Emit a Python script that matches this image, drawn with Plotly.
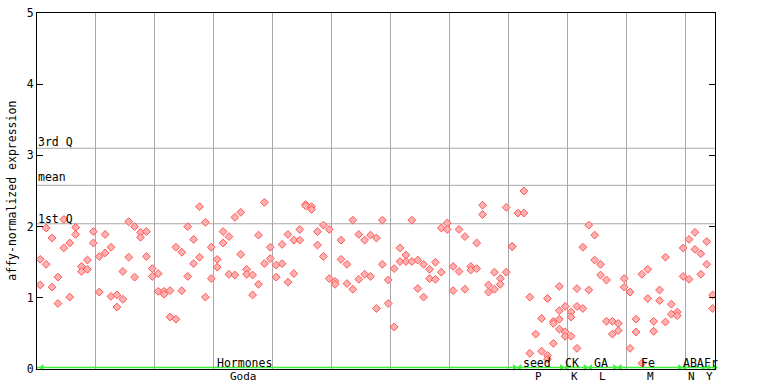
import plotly.graph_objects as go

# ---- data: replicate values per sample column, grouped by category ----
hormones = [[1.54,1.18],[1.98,1.47],[1.84,1.15],[1.29,0.92],[2.10,1.70],[1.77,1.01],[1.99,1.89],[1.44,1.37],[1.53,1.40],[1.93,1.77],
            [1.58,1.08],[1.89,1.63],[1.71,1.02],[1.04,0.87],[1.37,0.98],[2.07,1.57],[2.00,1.29],[1.92,1.85],[1.93,1.58],[1.41,1.30],
            [1.34,1.09],[1.09,1.05],[1.10,0.73],[1.71,0.70],[1.64,1.10],[2.00,1.30],[1.82,1.48],[2.28,1.57],[2.06,1.01],[1.71,1.27],
            [1.54,1.43],[1.93,1.77],[1.86,1.33],[2.13,1.32],[2.20,1.61],[1.40,1.33],[1.32,1.04],[1.88,1.19],[2.34,1.48],[1.71,1.55],
            [1.46,1.29],[1.75,1.48],[1.89,1.22],[1.81,1.34],[1.96,1.81],[2.31,2.29],[2.28,2.24],[1.93,1.74],[2.02,1.58],[1.96,1.27],
            [1.23,1.19],[1.81,1.54],[1.47,1.20],[2.09,1.12],[1.89,1.26],[1.81,1.33],[1.88,1.30],[1.84,0.85],[2.09,1.47],[1.25,0.92],
            [1.41,0.59],[1.70,1.51],[1.60,1.51],[2.09,1.51],[1.53,1.13],[1.47,1.01],[1.40,1.27],[1.50,1.26],[1.98,1.36],[2.05,1.96],
            [1.44,1.10],[1.96,1.37],[1.86,1.12],[1.44,1.39],[1.77,1.41],[2.30,2.17],[1.18,1.08],[1.36,1.12],[1.27,1.19],[2.27,1.36],
            [1.72,1.72]]
seed = [[2.19],[2.50,2.19],[1.01,0.22],[0.49],[0.71,0.25],[0.99,0.19,0.14],[0.67,0.64,0.36],[1.16,0.82,0.70,0.56]]
ck = [[0.88,0.52,0.46],[0.80,0.73,0.46],[1.13,0.88,0.29],[1.71,0.85]]
ga = [[2.02,1.11],[1.88,1.53],[1.47,1.32],[1.25,0.67],[0.67,0.49]]
fe = [[0.64,0.54],[1.27,1.15],[1.08,0.29],[0.70,0.52],[1.33,0.08],[1.40,0.99],[0.67,0.53],[1.11,0.96],[1.57,0.66],[0.91,0.77],[0.80,0.75]]
aba = [[1.70,1.30],[1.82,1.26],[1.92,1.68],[1.62,1.33]]
fr = [[1.79,1.47],[1.04,0.85]]

groups = [hormones, seed, ck, ga, fe, aba, fr]
group_labels = ["Hormones", "seed", "CK", "GA", "Fe", "ABA", "Fr"]
group_label_pos = [34.7, 84.2, 90.2, 95.0, 103.0, 110.7, 113.7]
sub_labels = ["Goda", "P", "K", "L", "M", "N", "Y"]
sub_label_pos = [34.4, 84.4, 90.5, 95.4, 103.5, 110.4, 113.5]

stat_names = ["3rd Q", "mean", "1st Q"]
stat_values = [3.10, 2.58, 2.04]
y_ticks = [0, 1, 2, 3, 4, 5]

FONT = "DejaVu Sans Mono"

xs, ys = [], []
seg_starts, seg_ends = [], []
col = 0
for g in groups:
    seg_starts.append(col)
    for reps in g:
        for v in reps:
            xs.append(col)
            ys.append(v)
        col += 1
    seg_ends.append(col - 1)
ncols = col

fig = go.Figure()

# statistic lines
for v in stat_values:
    fig.add_shape(type="line", x0=0, x1=1, xref="paper", y0=v, y1=v, yref="y",
                  line=dict(color="#a8a8a8", width=1), layer="below")

fig.add_trace(go.Scatter(x=xs, y=ys, mode="markers",
                         marker=dict(symbol="diamond", size=6, color="#ffb0b0",
                                     line=dict(color="#ff5555", width=1)),
                         showlegend=False))

# green category line with arrow heads
fig.add_shape(type="line", x0=-0.55, x1=ncols - 0.6, y0=0.02, y1=0.02, xref="x", yref="y",
              line=dict(color="#3cf03c", width=1.5), layer="above")
fig.add_trace(go.Scatter(x=[s + 0.3 for s in seg_starts], y=[0.02] * len(seg_starts), mode="markers",
                         marker=dict(symbol="triangle-left", size=6, color="#3cf03c"),
                         hoverinfo="skip", showlegend=False, cliponaxis=False))
fig.add_trace(go.Scatter(x=[e + 0.4 for e in seg_ends], y=[0.02] * len(seg_ends), mode="markers",
                         marker=dict(symbol="triangle-right", size=6, color="#3cf03c"),
                         hoverinfo="skip", showlegend=False, cliponaxis=False))

stat_label_y = [3.19, 2.69, 2.10]
for name, yv in zip(stat_names, stat_label_y):
    fig.add_annotation(x=0, xref="paper", xanchor="left", y=yv, yref="y", yanchor="middle",
                       text=name, showarrow=False, borderpad=0,
                       font=dict(family=FONT, size=11.5, color="black"))

for lab, pos in zip(group_labels, group_label_pos):
    fig.add_annotation(x=pos, xref="x", y=0.09, yref="y", yanchor="middle", text=lab,
                       showarrow=False, borderpad=0,
                       font=dict(family=FONT, size=11.5, color="black"))
for lab, pos in zip(sub_labels, sub_label_pos):
    fig.add_annotation(x=pos, xref="x", y=-0.021, yref="paper", yanchor="middle", text=lab,
                       showarrow=False, borderpad=0,
                       font=dict(family=FONT, size=11, color="black"))

# y-axis title as rotated text
fig.add_annotation(x=-0.0373, xref="paper", y=0.5, yref="paper", text="affy-normalized expression",
                   textangle=-90, showarrow=False, borderpad=0, xanchor="center", yanchor="middle",
                   font=dict(family=FONT, size=11.5, color="black"))

fig.update_layout(
    width=768, height=384,
    margin=dict(l=37, r=53, t=13, b=15, autoexpand=False),
    paper_bgcolor="white", plot_bgcolor="white",
    font=dict(family=FONT, size=11.5, color="black"),
    showlegend=False,
    xaxis=dict(range=[-0.55, ncols - 0.6], showticklabels=False, ticks="", automargin=False,
               showgrid=True, gridcolor="#a8a8a8", gridwidth=1, tick0=-0.55, dtick=10,
               zeroline=False, showline=True, linecolor="black", linewidth=1, mirror=True),
    yaxis=dict(range=[0, 5], tickvals=y_ticks, ticktext=[str(t) for t in y_ticks], automargin=False,
               ticks="inside", ticklen=6, tickcolor="black", showgrid=False, zeroline=False,
               showline=True, linecolor="black", linewidth=1, mirror="ticks"),
)

# remove the default page margin so the 768x384 figure fills the window exactly
fig.write_html("out.html", config={"displayModeBar": False},
               post_script="document.body.style.margin='0';document.body.style.overflow='hidden';")
